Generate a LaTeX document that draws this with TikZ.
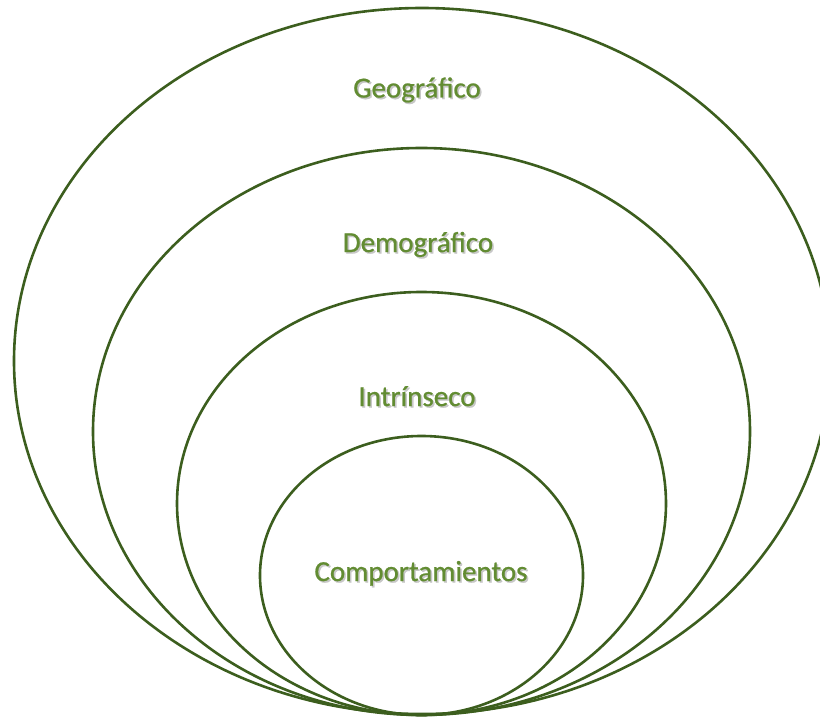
\documentclass[tikz,border=0pt]{standalone}
\usepackage{fontspec}
\setmainfont{Carlito}[FakeBold=0.8]
\usetikzlibrary{shapes.geometric}
\definecolor{ringline}{RGB}{60,94,30}
\definecolor{ringtext}{RGB}{98,140,50}
\tikzstyle{ring} = [
    ellipse, inner sep=0pt,
    draw=ringline, line width=2.6pt
]
\tikzstyle{ringlabel} = [
    anchor=base, inner sep=0pt,
    text=ringtext, font=\fontsize{29}{34}\selectfont
]
\newcommand{\softshadow}[1]{%
    \makebox[0pt][l]{\hspace{1.6pt}\raisebox{-1.6pt}{\textcolor{black!22}{#1}}}#1}

\begin{document}
\begin{tikzpicture}[x=1pt, y=-1pt]
        \useasboundingbox (0,0) rectangle (820,717);
        % Draw rings
        \node (geo) [ring, minimum width=816pt, minimum height=706pt] at (422,361) {};
        \node (demo) [ring, minimum width=657pt, minimum height=567pt] at (421.5,431.5) {};
        \node (intr) [ring, minimum width=489pt, minimum height=423pt] at (421.5,503.5) {};
        \node (comp) [ring, minimum width=323pt, minimum height=279pt] at (421.5,575.5) {};

        % Draw labels
        \node (geotext) [ringlabel] at (417,97.5) {\softshadow{Geográfico}};
        \node (demotext) [ringlabel] at (418,252) {\softshadow{Demográfico}};
        \node (intrtext) [ringlabel] at (417,406) {\softshadow{Intrínseco}};
        \node (comptext) [ringlabel] at (421,581) {\softshadow{Comportamientos}};
    \end{tikzpicture}
\end{document}
